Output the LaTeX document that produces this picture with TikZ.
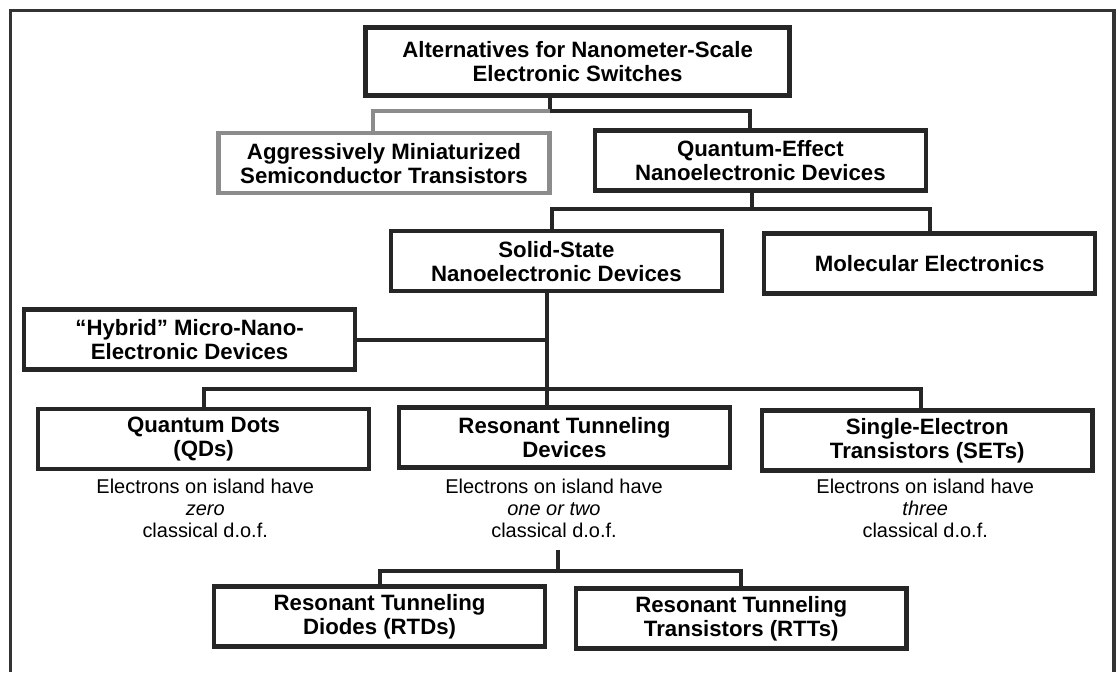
\documentclass[tikz,border=0pt]{standalone}
\usepackage{fontspec}
\setmainfont{Liberation Sans}
\usetikzlibrary{positioning}

\begin{document}
\begin{tikzpicture}[
    box/.style={draw=black!85, line width=3.2pt, minimum width=8.27cm, minimum height=1.5cm, align=center, inner sep=2pt, font=\bfseries\fontsize{15.8}{17}\selectfont},
    topbox/.style={box, minimum width=10.6cm, minimum height=1.7cm},
    graybox/.style={box, draw=black!45},
    note/.style={align=center, inner sep=0pt, font=\fontsize{14.2}{15.6}\selectfont},
    conn/.style={draw=black!85, line width=2.8pt},
    gconn/.style={conn, draw=black!45},
    frame/.style={draw=black!80, line width=2.4pt},
]
\useasboundingbox (0,0) rectangle (27.925,-16.8);
\draw[frame] (0.26,-16.8) |- (27.85,-0.26) -- (27.85,-16.8);

\node[topbox] (alt) at (14.44,-1.54) {Alternatives for Nanometer-Scale\\Electronic Switches};
\node[graybox] (mini) at (9.6,-4.08) {Aggressively Miniaturized\\Semiconductor Transistors};
\node[box] (qe) at (19.01,-4.01) {Quantum-Effect\\Nanoelectronic Devices};
\node[box] (ss) at (13.91,-6.53) {Solid-State\\Nanoelectronic Devices};
\node[box] (mol) at (23.24,-6.59) {Molecular Electronics};
\node[box] (hyb) at (4.74,-8.49) {``Hybrid'' Micro-Nano-\\Electronic Devices};

\node[box] (qd) at (5.09,-10.98) {Quantum Dots\\(QDs)};
\node[box] (rtd) at (14.11,-10.94) {Resonant Tunneling\\Devices};
\node[box] (set) at (23.18,-11.01) {Single-Electron\\Transistors (SETs)};

\node[note] (qdnote) at (5.13,-12.7) {Electrons on island have\\\textit{zero}\\classical d.o.f.};
\node[note] (rtdnote) at (13.85,-12.7) {Electrons on island have\\\textit{one or two}\\classical d.o.f.};
\node[note] (setnote) at (23.13,-12.7) {Electrons on island have\\\textit{three}\\classical d.o.f.};

\node[box] (rtdio) at (9.49,-15.41) {Resonant Tunneling\\Diodes (RTDs)};
\node[box] (rtt) at (18.53,-15.46) {Resonant Tunneling\\Transistors (RTTs)};

% tree connectors
\coordinate (j1) at (13.75,-2.78);
\coordinate (j2) at (18.8,-5.23);
\coordinate (j3) at (13.68,-9.73);
\coordinate (j4) at (13.95,-14.28);

\draw[conn] (alt.south -| j1) -- (j1);
\draw[gconn] (j1) -| ([xshift=-0.28cm]mini.north);
\draw[conn] (j1) -| ([xshift=-0.25cm]qe.north);

\draw[conn] (qe.south -| j2) -- (j2);
\draw[conn] ([xshift=-0.1cm]ss.north) |- (j2) -| (mol.north);

\draw[conn] (ss.south -| j3) -- (rtd.north -| j3);
\draw[conn] (hyb.east) -- (hyb.east -| j3);
\draw[conn] (qd.north) |- (j3) -| ([xshift=-0.15cm]set.north);

\draw[conn] ([yshift=-0.3cm]rtdnote.south -| j4) -- (j4);
\draw[conn] (rtdio.north) |- (j4) -| (rtt.north);

\end{tikzpicture}
\end{document}
